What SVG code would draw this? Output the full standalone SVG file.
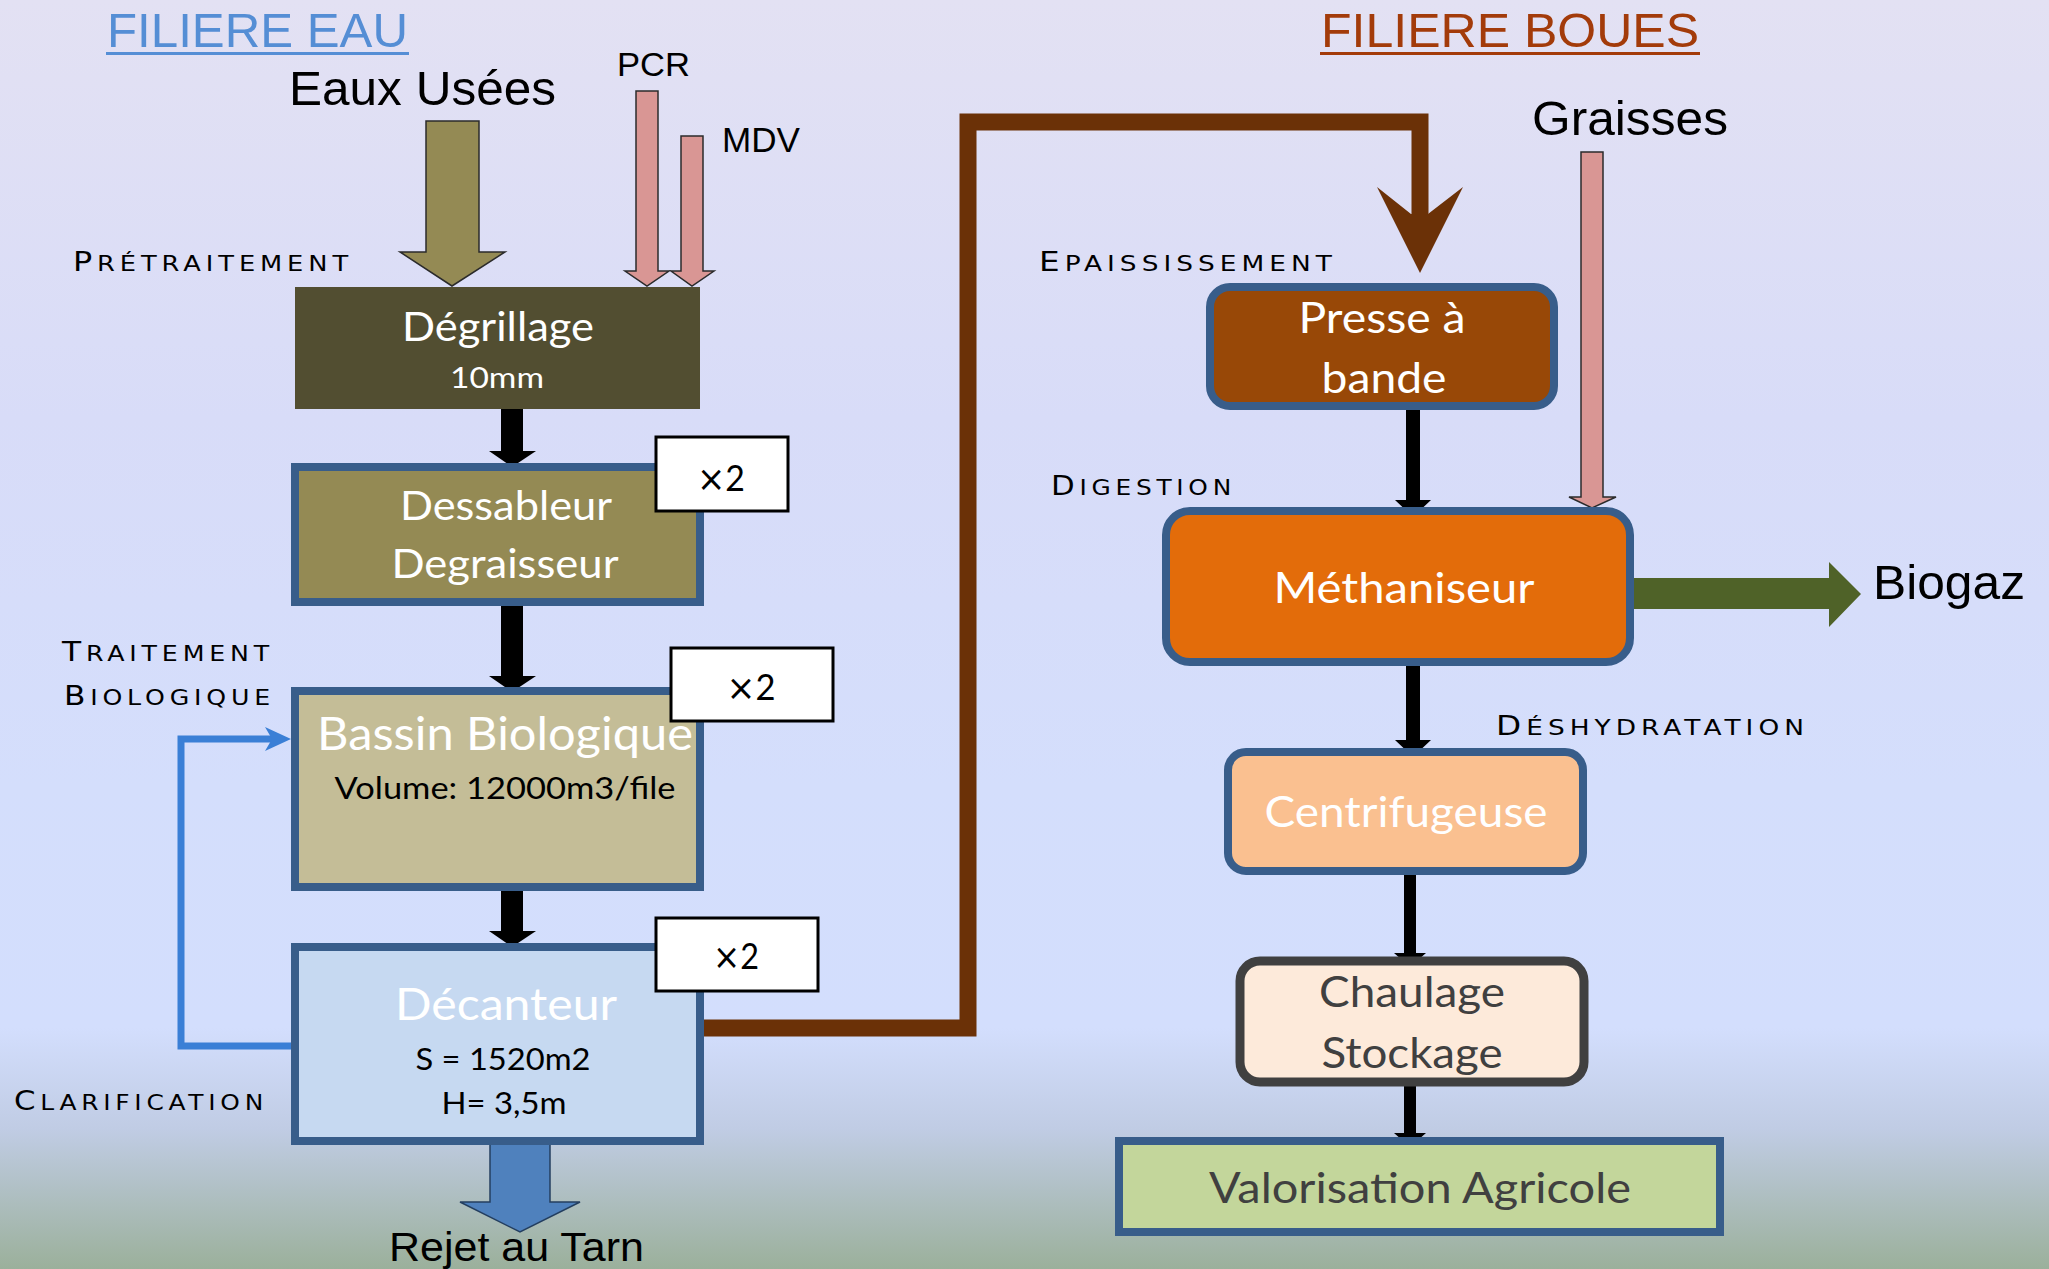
<svg xmlns="http://www.w3.org/2000/svg" width="2049" height="1269" viewBox="0 0 2049 1269">
<defs>
<linearGradient id="bg" x1="0" y1="0" x2="0" y2="1">
<stop offset="0" stop-color="#e3e1f3"/>
<stop offset="0.33" stop-color="#d8dcf8"/>
<stop offset="0.62" stop-color="#d4defc"/>
<stop offset="0.81" stop-color="#d3defd"/>
<stop offset="0.89" stop-color="#c0cce4"/>
<stop offset="1" stop-color="#9bb09b"/>
</linearGradient>
<style>
.ar{font-family:"Liberation Sans",Arial,sans-serif;fill:#000}
.bx{font-family:Lato,"Open Sans",sans-serif;text-anchor:middle}
.w{fill:#fff}
.k{fill:#000}
.g{fill:#404040}
.sc{font-family:"DejaVu Sans",sans-serif;font-variant:small-caps;font-size:30px;letter-spacing:4px;fill:#000}
.sc .c{font-size:26px}
.x{font-family:"DejaVu Sans",sans-serif}
.blue{stroke:#385d8a;stroke-width:8}
.mult{fill:#fff;stroke:#000;stroke-width:3}
.blk{fill:#000}
</style>
</defs>
<rect width="2049" height="1269" fill="url(#bg)"/>

<g id="titles">
<text class="ar" x="107" y="47" font-size="48" style="fill:#558ed5" textLength="301" lengthAdjust="spacingAndGlyphs">FILIERE EAU</text>
<rect x="106" y="52" width="303" height="3" fill="#558ed5"/>
<text class="ar" x="1321" y="47" font-size="49" style="fill:#a33b0a" textLength="378" lengthAdjust="spacingAndGlyphs">FILIERE BOUES</text>
<rect x="1320" y="52" width="380" height="3" fill="#a33b0a"/>
</g>

<g id="labels">
<text class="sc" x="73" y="271" textLength="280" lengthAdjust="spacingAndGlyphs"><tspan class="c">P</tspan>rétraitement</text>
<text class="sc" x="62" y="661" textLength="212" lengthAdjust="spacingAndGlyphs"><tspan class="c">T</tspan>raitement</text>
<text class="sc" x="64" y="705" textLength="211" lengthAdjust="spacingAndGlyphs"><tspan class="c">B</tspan>iologique</text>
<text class="sc" x="14" y="1110" textLength="254" lengthAdjust="spacingAndGlyphs"><tspan class="c">C</tspan>larification</text>
<text class="sc" x="1039" y="271" textLength="298" lengthAdjust="spacingAndGlyphs"><tspan class="c">E</tspan>paississement</text>
<text class="sc" x="1051" y="495" textLength="185" lengthAdjust="spacingAndGlyphs"><tspan class="c">D</tspan>igestion</text>
<text class="sc" x="1496" y="735" textLength="313" lengthAdjust="spacingAndGlyphs"><tspan class="c">D</tspan>éshydratation</text>
</g>

<g id="inputs">
<text class="ar" x="289" y="105" font-size="49" textLength="267" lengthAdjust="spacingAndGlyphs">Eaux Usées</text>
<text class="ar" x="617" y="76" font-size="34" textLength="73" lengthAdjust="spacingAndGlyphs">PCR</text>
<text class="ar" x="722" y="152" font-size="35" textLength="78" lengthAdjust="spacingAndGlyphs">MDV</text>
<text class="ar" x="1532" y="135" font-size="49" textLength="196" lengthAdjust="spacingAndGlyphs">Graisses</text>
<text class="ar" x="1873" y="599" font-size="49" textLength="152" lengthAdjust="spacingAndGlyphs">Biogaz</text>
<text class="ar" x="389" y="1261" font-size="41" textLength="255" lengthAdjust="spacingAndGlyphs">Rejet au Tarn</text>
</g>

<g id="connectors">
<polygon points="426,121 479,121 479,252 505,252 452,286 400,252 426,252" fill="#948a54" stroke="#2b2b2b" stroke-width="1.5"/>
<polygon points="636,91 658,91 658,271 669,271 647,286 625,271 636,271" fill="#d99694" stroke="#2b2b2b" stroke-width="1.5"/>
<polygon points="681,136 703,136 703,271 714,271 692,286 671,271 681,271" fill="#d99694" stroke="#2b2b2b" stroke-width="1.5"/>
<polygon points="1581,152 1603,152 1603,497 1616,497 1592,508 1569,497 1581,497" fill="#d99694" stroke="#2b2b2b" stroke-width="1.5"/>
<polygon class="blk" points="501,408 523,408 523,451 536,451 512,467 489,451 501,451"/>
<polygon class="blk" points="501,601 523,601 523,676 536,676 512,692 489,676 501,676"/>
<polygon class="blk" points="501,886 523,886 523,931 536,931 512,947 489,931 501,931"/>
<polygon class="blk" points="1406,409 1420,409 1420,500 1431,500 1413,517 1395,500 1406,500"/>
<polygon class="blk" points="1406,665 1420,665 1420,740 1431,740 1413,757 1395,740 1406,740"/>
<polygon class="blk" points="1404,874 1416,874 1416,953 1426,953 1410,967 1394,953 1404,953"/>
<polygon class="blk" points="1404,1085 1416,1085 1416,1133 1426,1133 1410,1147 1394,1133 1404,1133"/>
<polygon points="1630,578 1829,578 1829,562 1861,594 1829,627 1829,609 1630,609" fill="#4f6228"/>
<polygon points="490,1142 550,1142 550,1202 580,1202 520,1232 460,1202 490,1202" fill="#4f81bd" stroke="#243f60" stroke-width="1.5"/>
<path d="M291,1046 H181 V739 H274" fill="none" stroke="#3a7fd6" stroke-width="7"/>
<polygon points="291,739 265,727 272,739 265,751" fill="#3a7fd6"/>
<path d="M704,1028 H968 V122 H1420 V216" fill="none" stroke="#6b3107" stroke-width="17"/>
<polygon points="1411,214 1377,187 1420,273 1463,187 1428,214" fill="#6b3107"/>
</g>

<g id="degrillage">
<rect x="295" y="287" width="405" height="122" fill="#524e31"/>
<text class="bx w" x="498" y="341" font-size="40" textLength="192" lengthAdjust="spacingAndGlyphs">Dégrillage</text>
<text class="bx w" x="497" y="388" font-size="29" textLength="94" lengthAdjust="spacingAndGlyphs">10mm</text>
</g>

<g id="dessableur">
<rect class="blue" x="295" y="467" width="405" height="135" fill="#948a54"/>
<text class="bx w" x="506" y="520" font-size="40" textLength="212" lengthAdjust="spacingAndGlyphs">Dessableur</text>
<text class="bx w" x="505" y="578" font-size="40" textLength="227" lengthAdjust="spacingAndGlyphs">Degraisseur</text>
</g>
<g id="mult1">
<rect class="mult" x="656" y="437" width="132" height="74"/>
<text class="bx k" x="721" y="491" font-size="36" textLength="48" lengthAdjust="spacingAndGlyphs"><tspan class="x">×</tspan>2</text>
</g>

<g id="bassin">
<rect class="blue" x="295" y="691" width="405" height="196" fill="#c4bd97"/>
<text class="bx w" x="505" y="750" font-size="46" textLength="376" lengthAdjust="spacingAndGlyphs">Bassin Biologique</text>
<text class="bx k" x="505" y="799" font-size="31" textLength="341" lengthAdjust="spacingAndGlyphs">Volume: 12000m3/file</text>
</g>
<g id="mult2">
<rect class="mult" x="671" y="648" width="162" height="73"/>
<text class="bx k" x="751" y="700" font-size="36" textLength="49" lengthAdjust="spacingAndGlyphs"><tspan class="x">×</tspan>2</text>
</g>

<g id="decanteur">
<rect class="blue" x="295" y="947" width="405" height="194" fill="#c6d9f1"/>
<text class="bx w" x="506" y="1020" font-size="44" textLength="222" lengthAdjust="spacingAndGlyphs">Décanteur</text>
<text class="bx k" x="503" y="1070" font-size="31" textLength="175" lengthAdjust="spacingAndGlyphs">S = 1520m2</text>
<text class="bx k" x="504" y="1114" font-size="31" textLength="125" lengthAdjust="spacingAndGlyphs">H= 3,5m</text>
</g>
<g id="mult3">
<rect class="mult" x="656" y="918" width="162" height="73"/>
<text class="bx k" x="736" y="969" font-size="36" textLength="46" lengthAdjust="spacingAndGlyphs"><tspan class="x">×</tspan>2</text>
</g>

<g id="presse">
<rect class="blue" x="1210" y="287" width="344" height="119" rx="20" fill="#984807"/>
<text class="bx w" x="1382" y="333" font-size="42" textLength="167" lengthAdjust="spacingAndGlyphs">Presse à</text>
<text class="bx w" x="1384" y="393" font-size="42" textLength="125" lengthAdjust="spacingAndGlyphs">bande</text>
</g>

<g id="methaniseur">
<rect class="blue" x="1166" y="511" width="464" height="151" rx="24" fill="#e36c0a"/>
<text class="bx w" x="1404" y="603" font-size="43" textLength="261" lengthAdjust="spacingAndGlyphs">Méthaniseur</text>
</g>

<g id="centrifugeuse">
<rect class="blue" x="1228" y="752" width="355" height="119" rx="18" fill="#fac090"/>
<text class="bx w" x="1406" y="827" font-size="43" textLength="283" lengthAdjust="spacingAndGlyphs">Centrifugeuse</text>
</g>

<g id="chaulage">
<rect x="1240" y="961" width="344" height="121" rx="20" fill="#fdeada" stroke="#404040" stroke-width="9"/>
<text class="bx g" x="1412" y="1007" font-size="43" textLength="186" lengthAdjust="spacingAndGlyphs">Chaulage</text>
<text class="bx g" x="1412" y="1068" font-size="43" textLength="181" lengthAdjust="spacingAndGlyphs">Stockage</text>
</g>

<g id="valorisation">
<rect class="blue" x="1119" y="1141" width="601" height="91" fill="#c3d69b"/>
<text class="bx g" x="1420" y="1203" font-size="43" textLength="422" lengthAdjust="spacingAndGlyphs">Valorisation Agricole</text>
</g>
</svg>
